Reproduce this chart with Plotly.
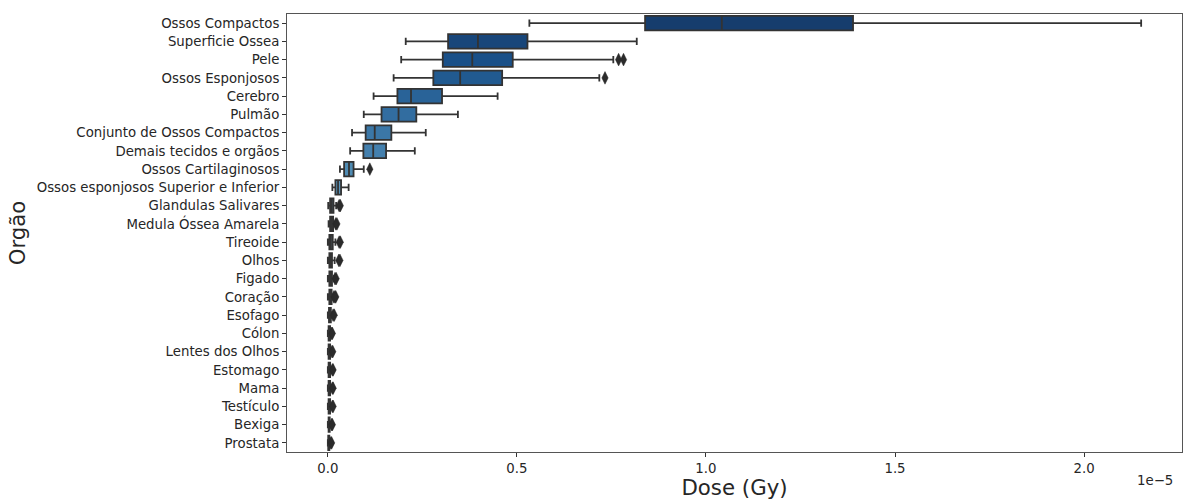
import colorsys
import plotly.graph_objects as go
import plotly.colors as pc

# Values in units of 1e-5 Gy
SCALE = 1e-5
organs = ["Ossos Compactos", "Superficie Ossea", "Pele", "Ossos Esponjosos", "Cerebro",
          "Pulmão", "Conjunto de Ossos Compactos", "Demais tecidos e orgãos",
          "Ossos Cartilaginosos", "Ossos esponjosos Superior e Inferior",
          "Glandulas Salivares", "Medula Óssea Amarela", "Tireoide", "Olhos", "Figado",
          "Coração", "Esofago", "Cólon", "Lentes dos Olhos", "Estomago", "Mama",
          "Testículo", "Bexiga", "Prostata"]
lower = [0.533, 0.206, 0.194, 0.174, 0.121, 0.095, 0.064, 0.059, 0.032, 0.012, 0.001, 0.002,
         0.000, 0.000, 0.000, 0.000, 0.000, 0.000, 0.000, 0.000, 0.000, 0.000, 0.000, 0.000]
q1 = [0.839, 0.318, 0.304, 0.279, 0.184, 0.142, 0.100, 0.094, 0.043, 0.020, 0.006, 0.006,
      0.004, 0.004, 0.004, 0.004, 0.003, 0.002, 0.002, 0.002, 0.002, 0.002, 0.002, 0.001]
median = [1.042, 0.397, 0.382, 0.350, 0.220, 0.187, 0.124, 0.120, 0.056, 0.027, 0.010, 0.010,
          0.008, 0.007, 0.007, 0.007, 0.005, 0.004, 0.004, 0.004, 0.004, 0.004, 0.003, 0.002]
q3 = [1.389, 0.528, 0.489, 0.461, 0.302, 0.234, 0.168, 0.154, 0.068, 0.035, 0.015, 0.014,
      0.013, 0.011, 0.011, 0.010, 0.008, 0.006, 0.006, 0.006, 0.006, 0.006, 0.005, 0.004]
upper = [2.151, 0.817, 0.755, 0.718, 0.449, 0.344, 0.259, 0.230, 0.095, 0.055, 0.022, 0.020,
         0.020, 0.018, 0.016, 0.015, 0.012, 0.009, 0.009, 0.010, 0.010, 0.010, 0.008, 0.007]
outliers = [[], [], [0.769, 0.782], [0.733], [], [], [], [], [0.111], [],
            [0.030, 0.033], [0.021, 0.024], [0.030, 0.033], [0.029, 0.032], [0.019, 0.022],
            [0.016, 0.019, 0.021], [0.014, 0.017], [0.010, 0.012], [0.011, 0.013],
            [0.012, 0.014], [0.012, 0.014], [0.012, 0.014], [0.010, 0.012], [0.008, 0.010]]
tick_values = [0.0, 0.5, 1.0, 1.5, 2.0]
tick_labels = ["0.0", "0.5", "1.0", "1.5", "2.0"]

# seaborn-like "Blues_r" palette, desaturated by 0.75
n = len(organs)
positions = [1 - (i + 1) / (n + 1) for i in range(n)]
sampled = pc.sample_colorscale(pc.sequential.Blues, positions)
colors = []
for s in sampled:
    r, g, b = [v / 255 for v in pc.unlabel_rgb(s)]
    h, l, sat = colorsys.rgb_to_hls(r, g, b)
    r, g, b = colorsys.hls_to_rgb(h, l, sat * 0.75)
    colors.append("rgb(%d,%d,%d)" % (round(r * 255), round(g * 255), round(b * 255)))

edge = "#333333"

fig = go.Figure()
for i, organ in enumerate(organs):
    fig.add_trace(go.Box(
        y=[organ], q1=[q1[i] * SCALE], median=[median[i] * SCALE], q3=[q3[i] * SCALE],
        lowerfence=[lower[i] * SCALE], upperfence=[upper[i] * SCALE],
        orientation="h", fillcolor=colors[i], line=dict(color=edge, width=1.8),
        width=0.8, whiskerwidth=0.5, boxpoints=False, showlegend=False,
        hoverinfo="skip"))

ox, oy = [], []
for i, organ in enumerate(organs):
    for v in outliers[i]:
        ox.append(v * SCALE)
        oy.append(organ)
fig.add_trace(go.Scatter(
    x=ox, y=oy, mode="markers", showlegend=False,
    marker=dict(symbol="diamond-tall", size=9, color="#2b2b2b",
                line=dict(color="#2b2b2b", width=0.5))))

fig.update_layout(
    width=1184, height=500,
    margin=dict(l=287, r=2, t=14, b=48),
    paper_bgcolor="white", plot_bgcolor="white",
    boxmode="overlay",
    font=dict(family="DejaVu Sans", size=13.3, color="#262626"),
    xaxis=dict(
        range=[-0.108 * SCALE, 2.259 * SCALE],
        tickvals=[v * SCALE for v in tick_values], ticktext=tick_labels,
        ticks="outside", ticklen=4, tickcolor="#333", showgrid=False, zeroline=False,
        showline=True, linecolor="#555", linewidth=1, mirror=True,
        title=dict(text="Dose (Gy)", font=dict(size=21.3), standoff=2),
        tickfont=dict(size=13.3)),
    yaxis=dict(
        type="category", categoryorder="array", categoryarray=organs,
        range=[n - 0.5, -0.5],
        ticks="outside", ticklen=4, tickcolor="#333", showgrid=False, zeroline=False,
        showline=True, linecolor="#555", linewidth=1, mirror=True,
        title=dict(text="Orgão", font=dict(size=21.3), standoff=5),
        tickfont=dict(size=13.3)),
    annotations=[dict(text="1e\u22125", xref="paper", yref="paper", x=0.992, y=-0.066,
                      xanchor="right", yanchor="middle", showarrow=False,
                      font=dict(size=13.3, color="#262626"))],
)

fig.write_html("out.html", config={"displayModeBar": False},
               post_script="document.body.style.margin='0';")
